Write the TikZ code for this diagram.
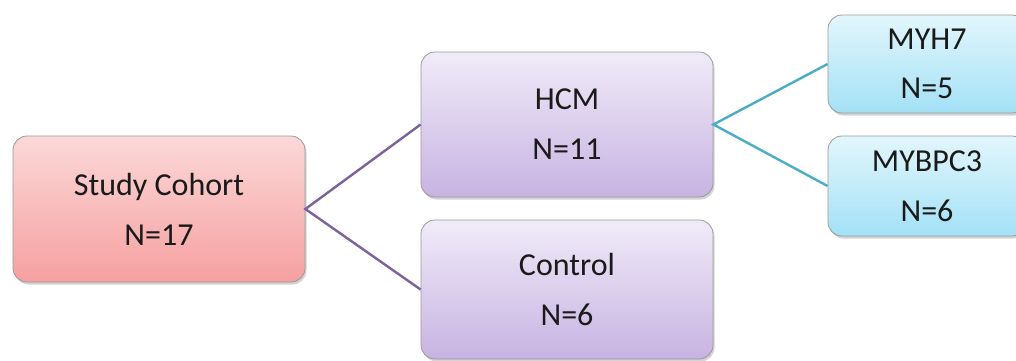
\documentclass[tikz,border=0pt]{standalone}
\usepackage{fontspec}
\setmainfont{Carlito}
\usetikzlibrary{shadows}
\definecolor{pinktop}{HTML}{FBD8D8}
\definecolor{pinkbot}{HTML}{F6A0A0}
\definecolor{lilactop}{HTML}{F0EBF8}
\definecolor{lilacbot}{HTML}{C7B3E2}
\definecolor{skytop}{HTML}{E2F6FC}
\definecolor{skybot}{HTML}{A3E1F6}
\definecolor{plumline}{HTML}{7E619A}
\definecolor{tealline}{HTML}{4BACC6}
\definecolor{edgegray}{HTML}{9A9A9A}
\definecolor{ink}{HTML}{1A1A1A}
\tikzset{
  box/.style={draw=edgegray, line width=0.8pt, rounded corners=14pt,
    inner sep=0pt, align=center, text=ink, font=\fontsize{32}{38}\selectfont,
    drop shadow={shadow xshift=1.5pt, shadow yshift=-2.5pt, opacity=0.35}},
  rootbox/.style={box, top color=pinktop, bottom color=pinkbot},
  groupbox/.style={box, top color=lilactop, bottom color=lilacbot},
  genebox/.style={box, top color=skytop, bottom color=skybot},
  plumlink/.style={draw=plumline, line width=2.4pt},
  teallink/.style={draw=tealline, line width=2.4pt}
}
\begin{document}
\begin{tikzpicture}[x=1pt, y=-1pt]
  \useasboundingbox (0,0) rectangle (1016,360);
  \clip (0,0) rectangle (1016,360);
  \node[rootbox, minimum width=292pt, minimum height=146pt] (cohort) at (159,209)
    {Study Cohort\\[12pt] N=17};
  \node[groupbox, minimum width=292pt, minimum height=145pt] (hcm) at (567,124.5)
    {HCM\\[12pt] N=11};
  \node[groupbox, minimum width=292pt, minimum height=139pt] (control) at (567,289.5)
    {Control\\[12pt] N=6};
  \node[genebox, minimum width=198pt, minimum height=98pt] (myh) at (927,64)
    {MYH7\\[11pt] N=5};
  \node[genebox, minimum width=198pt, minimum height=100pt] (mybpc) at (927,186)
    {MYBPC3\\[12pt] N=6};
  \draw[plumlink] (hcm.west) -- (cohort.east) -- (control.west);
  \draw[teallink] (myh.west) -- (hcm.east) -- (mybpc.west);
\end{tikzpicture}
\end{document}
